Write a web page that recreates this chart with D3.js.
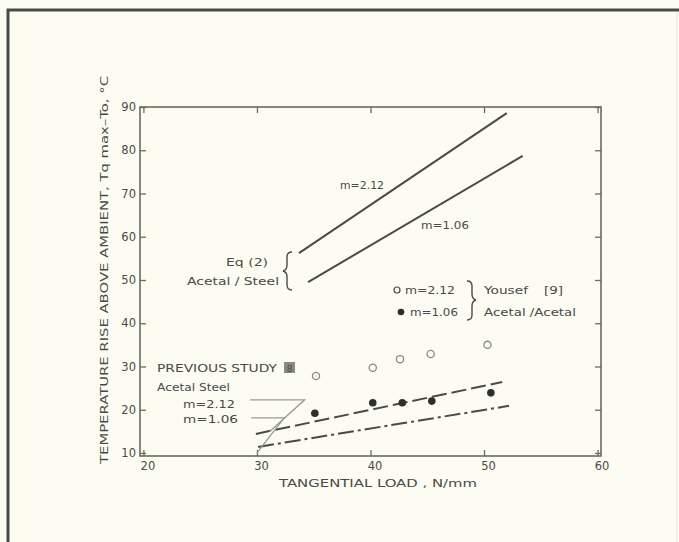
<!DOCTYPE html>
<html><head><meta charset="utf-8">
<script src="https://cdn.jsdelivr.net/npm/d3@7"></script>
<style>
body{margin:0;background:#fcfcf3;}
svg text{font-family:"DejaVu Sans",sans-serif;fill:#4a4a48;}
</style></head>
<body><svg id="c" width="679" height="542"></svg>
<script>
// ---- data ----
const xTicks = [20, 30, 40, 50, 60];
const yTicks = [10, 20, 30, 40, 50, 60, 70, 80, 90];
const eqM212 = [[33.7, 56.2], [52.0, 88.6]];
const eqM106 = [[34.5, 49.5], [53.4, 78.7]];
const prevM212 = [[29.9, 14.4], [51.6, 26.4]];
const prevM106 = [[30.1, 11.4], [52.2, 20.9]];
const yousefOpenX = [35.2, 40.2, 42.6, 45.3, 50.3];
const yousefOpenY = [27.8, 29.7, 31.7, 32.9, 35.0];
const yousefFilledX = [35.1, 40.2, 42.8, 45.4, 50.6];
const yousefFilledY = [19.2, 21.6, 21.6, 22.0, 23.9];
const leader1 = [[29.4, 22.3], [34.2, 22.3], [31.1, 14.9]];
const leader2 = [[29.5, 18.1], [32.4, 18.1], [30.0, 10.0]];

const svg = d3.select("#c");
const W = 679, H = 542;
svg.append("rect").attr("width", W).attr("height", H).attr("fill", "#fcfcf3");
// outer frame
svg.append("path").attr("d", `M8,${H} L8,10 L${W},10`).attr("fill", "none")
  .attr("stroke", "#4a4a4a").attr("stroke-width", 3);
svg.append("line").attr("x1", 677).attr("x2", 677).attr("y1", 12).attr("y2", H)
  .attr("stroke", "#e4e6dc").attr("stroke-width", 1);

const x = d3.scaleLinear().domain([19.7, 60.3]).range([140, 601]);
const y = d3.scaleLinear().domain([9.3, 90]).range([456, 107]);
const ink = "#4a4a48";

// plot box
svg.append("rect").attr("x", 140).attr("y", 107).attr("width", 461).attr("height", 349)
  .attr("fill", "none").attr("stroke", "#6a6a66").attr("stroke-width", 1.6);

// axes with inward ticks
const gx = svg.append("g").attr("transform", "translate(0,456)")
  .call(d3.axisBottom(x).tickValues(xTicks).tickSize(-6).tickPadding(6).tickFormat(d3.format("d")));
const gxt = svg.append("g").attr("transform", "translate(0,107)")
  .call(d3.axisTop(x).tickValues(xTicks).tickSize(-6).tickFormat(""));
const gy = svg.append("g").attr("transform", "translate(140,0)")
  .call(d3.axisLeft(y).tickValues(yTicks).tickSize(-6).tickPadding(4).tickFormat(d3.format("d")));
const gyr = svg.append("g").attr("transform", "translate(601,0)")
  .call(d3.axisRight(y).tickValues(yTicks).tickSize(-6).tickFormat(""));
[gx, gxt, gy, gyr].forEach(g => {
  g.select(".domain").remove();
  g.selectAll("line").attr("stroke", "#6a6a66").attr("stroke-width", 1.3);
  g.selectAll("text").attr("font-size", 11.5).attr("fill", "#7a7a74").style("font-family", "DejaVu Sans");
});
gx.selectAll("text").attr("dx", 4);

// axis titles
svg.append("text").attr("transform", "translate(108,270) rotate(-90)")
  .attr("text-anchor", "middle").attr("font-size", 11)
  .attr("textLength", 388).attr("lengthAdjust", "spacingAndGlyphs")
  .text("TEMPERATURE RISE ABOVE AMBIENT, Tq max\u2013To, \u00b0C");
svg.append("text").attr("x", 378).attr("y", 487).attr("text-anchor", "middle")
  .attr("font-size", 11).attr("textLength", 198).attr("lengthAdjust", "spacingAndGlyphs")
  .text("TANGENTIAL LOAD , N/mm");

const line = d3.line().x(d => x(d[0])).y(d => y(d[1]));

// Eq (2) lines
[eqM212, eqM106].forEach(d => svg.append("path").attr("d", line(d))
  .attr("fill", "none").attr("stroke", ink).attr("stroke-width", 2));
// previous study lines
svg.append("path").attr("d", line(prevM212)).attr("fill", "none").attr("stroke", ink)
  .attr("stroke-width", 2).attr("stroke-dasharray", "15,5");
svg.append("path").attr("d", line(prevM106)).attr("fill", "none").attr("stroke", ink)
  .attr("stroke-width", 2).attr("stroke-dasharray", "16,4,3,4");
// leader lines
[leader1, leader2].forEach(d => svg.append("path").attr("d", line(d))
  .attr("fill", "none").attr("stroke", "#9a9a94").attr("stroke-width", 1.3));

// Yousef points
svg.selectAll("circle.open").data(yousefOpenX).enter().append("circle")
  .attr("cx", d => x(d)).attr("cy", (d, i) => y(yousefOpenY[i])).attr("r", 3.6)
  .attr("fill", "none").attr("stroke", "#8a8a84").attr("stroke-width", 1.3);
svg.selectAll("circle.fill").data(yousefFilledX).enter().append("circle")
  .attr("cx", d => x(d)).attr("cy", (d, i) => y(yousefFilledY[i])).attr("r", 3.8)
  .attr("fill", "#2e2e2c");

// annotations
function t(xx, yy, s, opts = {}) {
  const e = svg.append("text").attr("x", xx).attr("y", yy).attr("font-size", opts.fs || 11)
    .attr("text-anchor", opts.anchor || "start").text(s);
  if (opts.len) e.attr("textLength", opts.len).attr("lengthAdjust", "spacingAndGlyphs");
  return e;
}
t(340, 189, "m=2.12", { len: 44 });
t(421, 229, "m=1.06", { len: 48 });
t(226, 266, "Eq  (2)", { len: 42 });
t(187, 285, "Acetal / Steel", { len: 92 });
// brace left
svg.append("path").attr("d", "M292,252 Q287,252 287,257 L287,265 Q287,270 283,271 Q287,272 287,277 L287,285 Q287,290 292,290")
  .attr("fill", "none").attr("stroke", ink).attr("stroke-width", 1.4);

// legend (Yousef)
svg.append("circle").attr("cx", 397).attr("cy", 290).attr("r", 3).attr("fill", "none")
  .attr("stroke", ink).attr("stroke-width", 1.2);
svg.append("circle").attr("cx", 401).attr("cy", 312).attr("r", 3.3).attr("fill", "#2e2e2c");
t(405, 294, "m=2.12", { len: 50 });
t(410, 316, "m=1.06", { len: 48 });
svg.append("path").attr("d", "M467,281 Q472,281 472,286 L472,294 Q472,299 476,300 Q472,301 472,306 L472,315 Q472,320 467,320")
  .attr("fill", "none").attr("stroke", ink).attr("stroke-width", 1.4);
t(484, 294, "Yousef", { len: 44 });
t(544, 294, "[9]", { len: 19 });
t(484, 316, "Acetal /Acetal", { len: 92 });

// previous study
t(157, 372, "PREVIOUS STUDY", { len: 120 });
svg.append("rect").attr("x", 284).attr("y", 362).attr("width", 11).attr("height", 11)
  .attr("fill", "#8a8a84");
t(289.5, 371.5, "8", { fs: 9, anchor: "middle" }).attr("fill", "#fcfcf3");
t(157, 391, "Acetal  Steel", { len: 73 });
t(183, 408, "m=2.12", { len: 52 });
t(183, 423, "m=1.06", { len: 55 });
</script></body></html>
